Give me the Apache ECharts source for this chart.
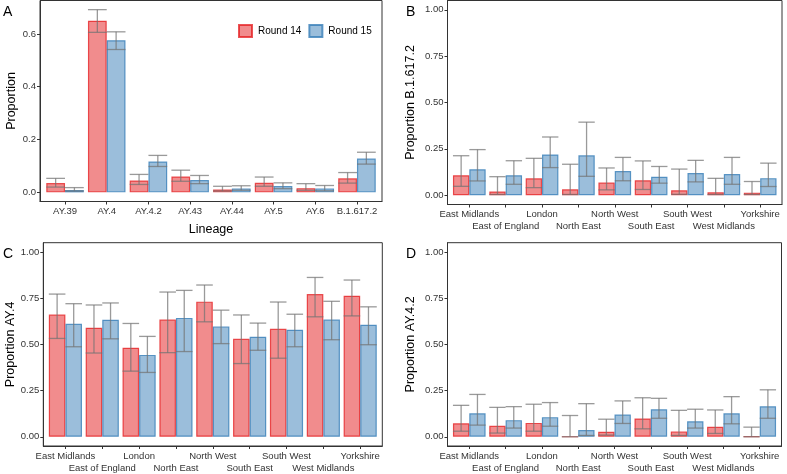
<!DOCTYPE html>
<html>
<head>
<meta charset="utf-8">
<script src="https://cdn.jsdelivr.net/npm/echarts@6/dist/echarts.min.js"></script>
<style>html,body{margin:0;padding:0;background:#fff}#c{width:787px;height:474px}</style>
</head>
<body>
<div id="c"></div>
<script>
// ---- Panel A: lineage proportions ----
const lineages = ['AY.39','AY.4','AY.4.2','AY.43','AY.44','AY.5','AY.6','B.1.617.2'];
const aR14   = [0.035,0.650,0.045,0.060,0.011,0.036,0.016,0.053];
const aR14Lo = [0.020,0.606,0.030,0.042,0.005,0.023,0.008,0.035];
const aR14Hi = [0.053,0.692,0.068,0.084,0.023,0.058,0.033,0.075];
const aR15   = [0.009,0.576,0.117,0.047,0.015,0.024,0.015,0.128];
const aR15Lo = [0.005,0.541,0.098,0.033,0.008,0.014,0.006,0.107];
const aR15Hi = [0.018,0.608,0.140,0.064,0.025,0.036,0.026,0.152];
const aTicks = [0,0.2,0.4,0.6];

// ---- Regions (panels B, C, D) ----
const regions = ['East Midlands','East of England','London','North East','North West','South East','South West','West Midlands','Yorkshire'];
const regionTicks = [0,0.25,0.5,0.75,1];

// Panel B: B.1.617.2
const bR14   = [0.108,0.020,0.091,0.032,0.068,0.081,0.027,0.016,0.014];
const bR14Lo = [0.048,0.004,0.041,0.004,0.029,0.031,0.005,0.004,0.004];
const bR14Hi = [0.213,0.100,0.199,0.167,0.147,0.185,0.141,0.091,0.074];
const bR15   = [0.140,0.108,0.220,0.215,0.130,0.100,0.120,0.114,0.092];
const bR15Lo = [0.077,0.059,0.149,0.102,0.078,0.065,0.072,0.059,0.047];
const bR15Hi = [0.246,0.186,0.314,0.394,0.204,0.155,0.188,0.204,0.173];

// Panel C: AY.4
const cR14   = [0.661,0.590,0.482,0.634,0.731,0.530,0.584,0.772,0.763];
const cR14Lo = [0.532,0.453,0.355,0.455,0.622,0.396,0.425,0.649,0.654];
const cR14Hi = [0.772,0.713,0.613,0.783,0.821,0.659,0.729,0.862,0.848];
const cR15   = [0.611,0.633,0.443,0.643,0.597,0.541,0.579,0.634,0.606];
const cR15Lo = [0.487,0.530,0.348,0.461,0.504,0.468,0.487,0.525,0.498];
const cR15Hi = [0.720,0.724,0.543,0.792,0.685,0.615,0.663,0.733,0.703];

// Panel D: AY.4.2
const dR14   = [0.073,0.059,0.075,0.000,0.027,0.099,0.029,0.054,0.002];
const dR14Lo = [0.030,0.020,0.030,0.000,0.009,0.043,0.007,0.018,0.000];
const dR14Hi = [0.170,0.159,0.176,0.115,0.095,0.211,0.143,0.145,0.052];
const dR15   = [0.127,0.090,0.106,0.036,0.120,0.149,0.084,0.127,0.165];
const dR15Lo = [0.063,0.047,0.057,0.007,0.072,0.100,0.047,0.070,0.100];
const dR15Hi = [0.229,0.163,0.185,0.179,0.194,0.208,0.149,0.217,0.254];

const FONT = '"Liberation Sans", Arial, sans-serif';
const RED_FILL = 'rgba(228,26,28,0.5)', RED_LINE = 'rgba(228,26,28,0.75)';
const BLUE_FILL = 'rgba(55,126,184,0.5)', BLUE_LINE = 'rgba(55,126,184,0.8)';
const AXIS = '#333';
const TXT = '#333';

const panels = [
  {cats: lineages, s: [aR14,aR14Lo,aR14Hi,aR15,aR15Lo,aR15Hi], ymin:-0.0346, ymax:0.7266, yticks:aTicks, dec:1,
   grid:{left:40, top:0.5, width:342, height:201}, yname:'Proportion', ygap:22, xname:'Lineage', stagger:false},
  {cats: regions, s: [bR14,bR14Lo,bR14Hi,bR15,bR15Lo,bR15Hi], ymin:-0.05, ymax:1.05, yticks:regionTicks, dec:2,
   grid:{left:447.5, top:0.5, width:334.5, height:204}, yname:'Proportion B.1.617.2', ygap:30, xname:'', stagger:true},
  {cats: regions, s: [cR14,cR14Lo,cR14Hi,cR15,cR15Lo,cR15Hi], ymin:-0.05, ymax:1.05, yticks:regionTicks, dec:2,
   grid:{left:43.3, top:242.7, width:339, height:204.6}, yname:'Proportion AY.4', ygap:24, xname:'', stagger:true},
  {cats: regions, s: [dR14,dR14Lo,dR14Hi,dR15,dR15Lo,dR15Hi], ymin:-0.05, ymax:1.05, yticks:regionTicks, dec:2,
   grid:{left:447.5, top:242.7, width:334, height:204.6}, yname:'Proportion AY.4.2', ygap:30, xname:'', stagger:true}
];

function errRender(offset){
  return function(params, api){
    const x = api.value(0) + offset;
    const lo = api.coord([x, api.value(1)]);
    const hi = api.coord([x, api.value(2)]);
    const half = api.size([0.225, 0])[0];
    const st = {stroke:'rgba(115,115,115,0.72)', lineWidth:1.3};
    return {type:'group', children:[
      {type:'line', shape:{x1:lo[0], y1:lo[1], x2:hi[0], y2:hi[1]}, style:st},
      {type:'line', shape:{x1:hi[0]-half, y1:hi[1], x2:hi[0]+half, y2:hi[1]}, style:st},
      {type:'line', shape:{x1:lo[0]-half, y1:lo[1], x2:lo[0]+half, y2:lo[1]}, style:st}
    ]};
  };
}

const grids = [], xAxes = [], yAxes = [], series = [], xAxes2 = [];
panels.forEach((p, i) => {
  grids.push(Object.assign({show:true, borderColor:AXIS, borderWidth:1, backgroundColor:'transparent', containLabel:false}, p.grid));
  const idx = p.cats.map((c, k) => k);
  const row1 = p.stagger ? idx.filter(k => k % 2 === 0) : idx;
  const row2 = idx.filter(k => k % 2 === 1);
  const labelBase = {showMinLabel:true, showMaxLabel:true, hideOverlap:false,
      fontFamily:FONT, fontSize:9.5, color:TXT, lineHeight:12,
      formatter: (v) => p.cats[Math.round(v)]};
  xAxes.push({
    type:'value', gridIndex:i, position:'bottom', min:-0.6, max:p.cats.length-0.4,
    splitLine:{show:false},
    axisLine:{show:true, onZero:false, lineStyle:{color:AXIS, width:1}},
    axisTick:{show:true, length:3, customValues:idx, lineStyle:{color:AXIS}},
    axisLabel:Object.assign({customValues:row1, margin:4}, labelBase),
    name:p.xname, nameLocation:'middle', nameGap:22,
    nameTextStyle:{fontFamily:FONT, fontSize:12.5, color:'#000'}
  });
  if (p.stagger) {
    xAxes2.push({
      type:'value', gridIndex:i, position:'bottom', min:-0.6, max:p.cats.length-0.4,
      splitLine:{show:false}, axisLine:{show:false, onZero:false}, axisTick:{show:false},
      axisLabel:Object.assign({customValues:row2, margin:16}, labelBase)
    });
  }
  yAxes.push({
    type:'value', gridIndex:i, min:p.ymin, max:p.ymax,
    splitLine:{show:false},
    axisLine:{show:true, onZero:false, lineStyle:{color:AXIS, width:1}},
    axisTick:{show:true, length:3, customValues:p.yticks, lineStyle:{color:AXIS}},
    axisLabel:{customValues:p.yticks, showMinLabel:true, showMaxLabel:true,
      fontFamily:FONT, fontSize:9.5, color:TXT, margin:4,
      formatter:(v) => v.toFixed(p.dec)},
    name:p.yname, nameLocation:'middle', nameRotate:90, nameGap:p.ygap,
    nameTextStyle:{fontFamily:FONT, fontSize:12.5, color:'#000'}
  });
  const [r14, r14lo, r14hi, r15, r15lo, r15hi] = p.s;
  series.push({
    type:'bar', name:'Round 14', xAxisIndex:i, yAxisIndex:i, barGap:'0%', barCategoryGap:'10%',
    itemStyle:{color:RED_FILL, borderColor:RED_LINE, borderWidth:1.2},
    data: r14.map((v, k) => [k, v]), z:2
  });
  series.push({
    type:'bar', name:'Round 15', xAxisIndex:i, yAxisIndex:i, barGap:'0%', barCategoryGap:'10%',
    itemStyle:{color:BLUE_FILL, borderColor:BLUE_LINE, borderWidth:1.2},
    data: r15.map((v, k) => [k, v]), z:2
  });
  series.push({
    type:'custom', name:'err14_'+i, xAxisIndex:i, yAxisIndex:i, renderItem:errRender(-0.225),
    encode:{x:0, y:[1,2]}, data: r14.map((v, k) => [k, r14lo[k], r14hi[k]]), z:5, silent:true
  });
  series.push({
    type:'custom', name:'err15_'+i, xAxisIndex:i, yAxisIndex:i, renderItem:errRender(0.225),
    encode:{x:0, y:[1,2]}, data: r15.map((v, k) => [k, r15lo[k], r15hi[k]]), z:5, silent:true
  });
});

const letterStyle = {fontFamily:FONT, fontSize:14, fill:'#000'};
const option = {
  animation:false,
  backgroundColor:'#fff',
  grid:grids, xAxis:xAxes.concat(xAxes2), yAxis:yAxes, series:series,
  legend:{
    data:['Round 14','Round 15'], left:238, top:24, padding:0, icon:'rect',
    itemWidth:13, itemHeight:12, itemGap:7,
    textStyle:{fontFamily:FONT, fontSize:10, color:'#000', padding:[0,0,0,1]}, selectedMode:false
  },
  graphic:[
    {type:'text', left:3, top:5, style:Object.assign({text:'A'}, letterStyle)},
    {type:'text', left:406, top:5, style:Object.assign({text:'B'}, letterStyle)},
    {type:'text', left:3, top:247, style:Object.assign({text:'C'}, letterStyle)},
    {type:'text', left:406, top:247, style:Object.assign({text:'D'}, letterStyle)}
  ]
};
const chart = echarts.init(document.getElementById('c'), null, {renderer:'canvas'});
chart.setOption(option);
</script>
</body>
</html>
